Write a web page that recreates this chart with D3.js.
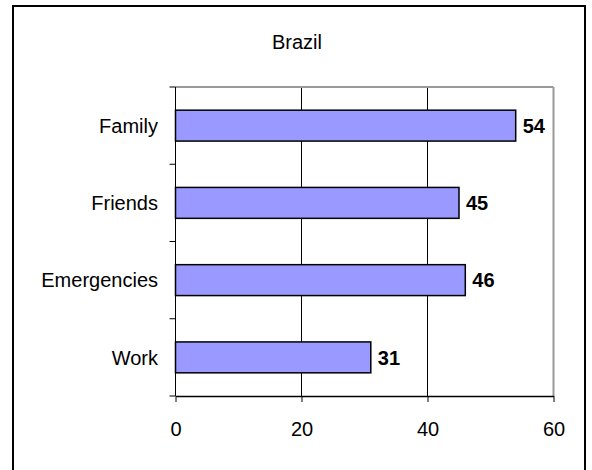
<!DOCTYPE html>
<html>
<head>
<meta charset="utf-8">
<script src="https://d3js.org/d3.v7.min.js"></script>
<style>
  body { margin: 0; background: #fff; }
  text { font-family: Arial, "Liberation Sans", sans-serif; fill: #000; }
</style>
</head>
<body>
<div id="chart"></div>
<script>
const title = 'Brazil';
const categories = ['Family', 'Friends', 'Emergencies', 'Work'];
const values = [54, 45, 46, 31];
const xTicks = [0, 20, 40, 60];

const width = 592;
const height = 470;
const plot = { left: 175.5, right: 553.5, top: 87, bottom: 396 };

const svg = d3.select('#chart')
  .append('svg')
    .attr('width', width)
    .attr('height', height);

// outer frame (bottom edge falls outside the picture)
svg.append('rect')
  .attr('x', 13)
  .attr('y', 6)
  .attr('width', 572)
  .attr('height', 480)
  .attr('fill', '#fff')
  .attr('stroke', '#000')
  .attr('stroke-width', 2);

svg.append('text')
  .attr('x', 297)
  .attr('y', 49)
  .attr('text-anchor', 'middle')
  .style('font-size', '20px')
  .text(title);

const x = d3.scaleLinear()
  .domain([0, 60])
  .range([plot.left, plot.right]);

const y = d3.scaleBand()
  .domain(categories)
  .range([plot.top, plot.bottom])
  .paddingInner(0.6)
  .paddingOuter(0.3);

// grid lines
svg.append('g')
  .selectAll('line')
  .data(xTicks.slice(1))
  .enter()
  .append('line')
    .attr('x1', d => x(d))
    .attr('x2', d => x(d))
    .attr('y1', plot.top)
    .attr('y2', plot.bottom)
    .attr('stroke', d => d === 60 ? '#999' : '#000')
    .attr('stroke-width', d => d === 60 ? 2 : 1);

svg.append('line')
  .attr('x1', plot.left)
  .attr('x2', plot.right)
  .attr('y1', plot.top)
  .attr('y2', plot.top)
  .attr('stroke', '#999')
  .attr('stroke-width', 2);

// bars
svg.append('g')
  .selectAll('rect')
  .data(values)
  .enter()
  .append('rect')
    .attr('x', x(0))
    .attr('y', (d, i) => y(categories[i]))
    .attr('width', d => x(d) - x(0))
    .attr('height', y.bandwidth())
    .attr('fill', '#9999ff')
    .attr('stroke', '#000')
    .attr('stroke-width', 1.5);

svg.append('g')
  .selectAll('text')
  .data(values)
  .enter()
  .append('text')
    .attr('x', d => x(d) + 7)
    .attr('y', (d, i) => y(categories[i]) + y.bandwidth() / 2)
    .attr('dy', '0.36em')
    .style('font-size', '20px')
    .style('font-weight', 'bold')
    .text(d => d);

// y axis: ticks sit between categories
const step = (plot.bottom - plot.top) / categories.length;
const yBounds = d3.range(categories.length + 1).map(i => plot.top + i * step);

const yAxis = svg.append('g');
yAxis.append('line')
  .attr('x1', plot.left)
  .attr('x2', plot.left)
  .attr('y1', plot.top)
  .attr('y2', plot.bottom)
  .attr('stroke', '#000');
yAxis.selectAll('line.tick')
  .data(yBounds)
  .enter()
  .append('line')
    .attr('class', 'tick')
    .attr('x1', plot.left - 6)
    .attr('x2', plot.left)
    .attr('y1', d => d)
    .attr('y2', d => d)
    .attr('stroke', '#000');
yAxis.selectAll('text')
  .data(categories)
  .enter()
  .append('text')
    .attr('x', 158)
    .attr('y', (d, i) => yBounds[i] + step / 2)
    .attr('dy', '0.36em')
    .attr('text-anchor', 'end')
    .style('font-size', '20px')
    .text(d => d);

// x axis
svg.append('g')
  .attr('transform', `translate(0,${plot.bottom})`)
  .call(d3.axisBottom(x).tickValues(xTicks).tickSize(6).tickPadding(20).tickSizeOuter(0))
  .call(g => g.select('.domain').attr('stroke', '#000').attr('stroke-width', 1.5))
  .call(g => g.selectAll('.tick line').attr('stroke', '#000'))
  .call(g => g.selectAll('.tick text')
    .style('font-size', '20px')
    .style('font-family', 'Arial, "Liberation Sans", sans-serif'));
</script>
</body>
</html>
